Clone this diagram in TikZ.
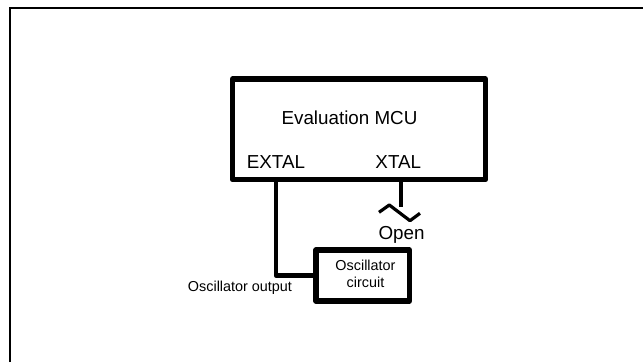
\documentclass[tikz,border=0pt]{standalone}
\usepackage{fontspec}
\setmainfont{Liberation Sans}
\tikzset{
  box/.style={draw=black,line width=5.2pt,line join=round,inner sep=0pt,outer sep=0pt,fill=white},
  wire/.style={draw=black,line width=4.6pt,line join=round},
  thinwire/.style={draw=black,line width=3.2pt,line join=round},
  framed/.style={draw=black,line width=2.8pt,line join=miter},
  big/.style={inner sep=0pt,outer sep=0pt,anchor=base,font=\fontsize{18.8}{20}\selectfont},
  small/.style={inner sep=0pt,outer sep=0pt,anchor=base,font=\fontsize{14.4}{16}\selectfont},
}
\begin{document}
\begin{tikzpicture}[x=1pt,y=-1pt]
\useasboundingbox (0,0) rectangle (643,362);
\fill[white] (0,0) rectangle (643,362);
\draw[framed] (10,362) -- (10,8) -- (643,8);
\node[box,minimum width=253pt,minimum height=100.5pt] (mcu) at (359,129.3) {};
\node[box,minimum width=93.5pt,minimum height=51pt] (osc) at (362.8,275.5) {};
\node[big] (eval) at (349.5,124) {Evaluation MCU};
\node[big] (extal) at (276,168.3) {EXTAL};
\node[big] (xtal) at (398.3,168.3) {XTAL};
\node[big] (open) at (401.5,239) {Open};
\node[small] (osca) at (365.5,270.7) {Oscillator};
\node[small] (oscb) at (365.5,287.3) {circuit};
\node[small] (oscout) at (240,291.7) {Oscillator output};
\coordinate (xtalend) at (401,207);
\coordinate (swa) at (379,212.3);
\coordinate (swb) at (389.3,205);
\coordinate (swc) at (410,220.7);
\coordinate (swd) at (420,213.3);
\draw[wire] (mcu.south -| extal.base) |- (osc.west);
\draw[wire] (mcu.south -| xtalend) -- (xtalend);
\draw[thinwire] (swa) -- (swb) -- (swc) -- (swd);
\end{tikzpicture}
\end{document}
